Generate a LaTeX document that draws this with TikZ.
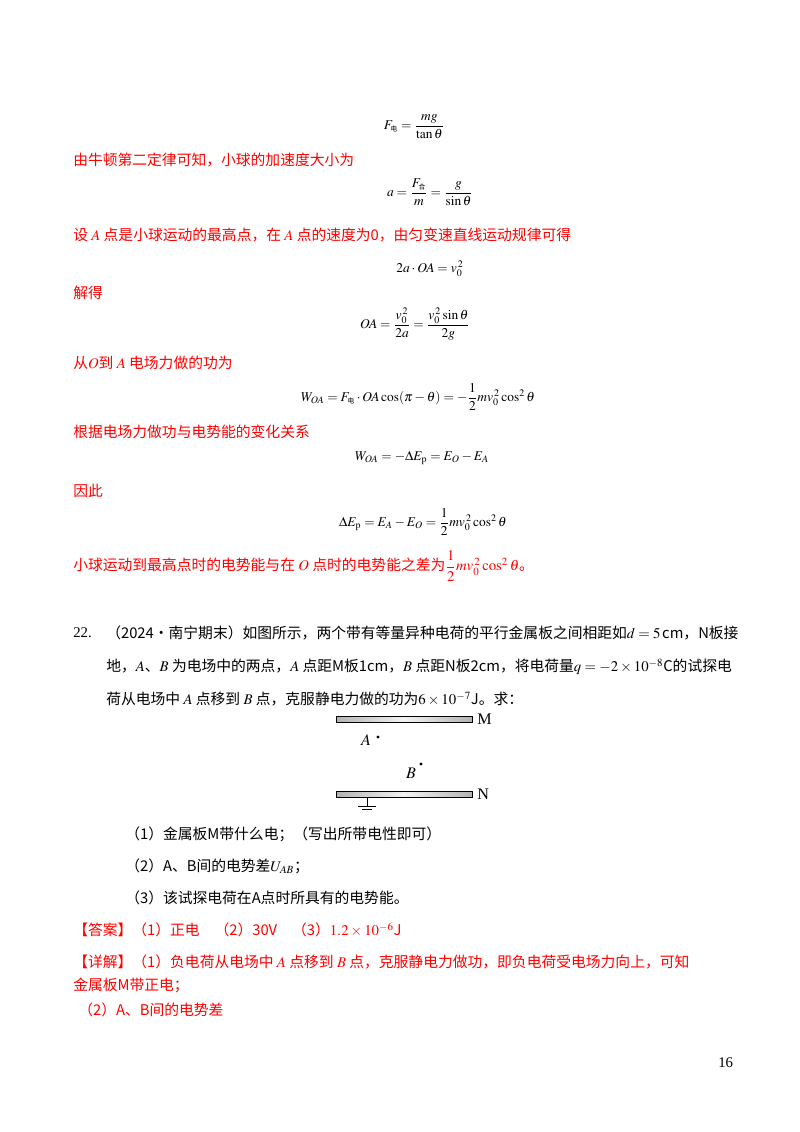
\documentclass[tikz,border=0pt]{standalone}
\usepackage{amsmath}
\usepackage{mathptmx}
\usepackage{fontspec}
\setmainfont{Liberation Serif}
\newfontfamily\cjk{Noto Sans CJK SC}
\definecolor{ansred}{RGB}{255,0,0}
\begin{document}
\begin{tikzpicture}[x=0.744pt,y=-0.744pt,
  red/.style={anchor=west,inner sep=0,text=ansred,font=\cjk\fontsize{11}{13}\selectfont},
  blk/.style={anchor=west,inner sep=0,font=\cjk\fontsize{11}{13}\selectfont},
  eq/.style={inner sep=0,font=\fontsize{10}{12}\selectfont},
  plate/.style={draw=black,line width=0.6pt,top color=gray!60,bottom color=gray!60,middle color=gray!10,shading angle=90}]
\useasboundingbox (0,0) rectangle (800,1132);
\node[eq] (e1) at (414,127) {$F_{\text{\cjk\tiny 电}}=\dfrac{mg}{\tan\theta}$};
\node[red] (t1) at (73,160) {由牛顿第二定律可知，小球的加速度大小为};
\node[eq] (e2) at (430,192) {$a=\dfrac{F_{\text{\cjk\tiny 合}}}{m}=\dfrac{g}{\sin\theta}$};
\node[red] (t2) at (73,235) {设 $A$ 点是小球运动的最高点，在 $A$ 点的速度为0，由匀变速直线运动规律可得};
\node[eq] (e3) at (430,269) {$2a\cdot OA=v_0^{\,2}$};
\node[red] (t3) at (73,293) {解得};
\node[eq] (e4) at (415,324) {$OA=\dfrac{v_0^{\,2}}{2a}=\dfrac{v_0^{\,2}\sin\theta}{2g}$};
\node[red] (t4) at (73,363) {从$O$到 $A$ 电场力做的功为};
\node[eq] (e5) at (418,397) {$W_{OA}=F_{\text{\cjk\tiny 电}}\cdot OA\cos(\pi-\theta)=-\dfrac12 mv_0^{\,2}\cos^2\theta$};
\node[red] (t5) at (73,432) {根据电场力做功与电势能的变化关系};
\node[eq] (e6) at (422,458) {$W_{OA}=-\Delta E_{\mathrm p}=E_O-E_A$};
\node[red] (t6) at (73,491) {因此};
\node[eq] (e7) at (423,522) {$\Delta E_{\mathrm p}=E_A-E_O=\dfrac12 mv_0^{\,2}\cos^2\theta$};
\node[red] (t7) at (73,566) {小球运动到最高点时的电势能与在 $O$ 点时的电势能之差为$\dfrac12 mv_0^{\,2}\cos^2\theta$。};
\node[blk] (q0) at (73,633) {\rmfamily 22.};
\node[blk] (q1) at (106,633) {（2024·南宁期末）如图所示，两个带有等量异种电荷的平行金属板之间相距如$d=5\,$cm，N板接};
\node[blk] (q2) at (106,667) {地，$A$、$B$ 为电场中的两点，$A$ 点距M板1cm，$B$ 点距N板2cm，将电荷量$q=-2\times10^{-8}$C的试探电};
\node[blk] (q3) at (106,699) {荷从电场中 $A$ 点移到 $B$ 点，克服静电力做的功为$6\times10^{-7}$J。求：};
% figure
\node[plate,minimum width=136*0.744pt,minimum height=6*0.744pt,inner sep=0] (pm) at (404,719) {};
\node[anchor=west,inner sep=0,font=\fontsize{12}{14}\selectfont] (lm) at (477,719) {M};
\node[plate,minimum width=136*0.744pt,minimum height=6*0.744pt,inner sep=0] (pn) at (404,794) {};
\node[anchor=west,inner sep=0,font=\fontsize{12}{14}\selectfont] (ln) at (477,794) {N};
\fill (378,737) circle (1.6) coordinate (da);
\node[inner sep=0,font=\fontsize{12}{14}\selectfont] (la) at (366,740) {$A$};
\fill (421,764) circle (1.6) coordinate (db);
\node[inner sep=0,font=\fontsize{12}{14}\selectfont] (lb) at (411,773) {$B$};
\coordinate (g0) at (367,797);
\coordinate (g1) at (367,806);
\draw[line width=0.6pt] (g0) -- (g1) (358,806) -- (376,806) (362,809) -- (372,809);
\node[blk] (s1) at (125,834) {（1）金属板M带什么电；（写出所带电性即可）};
\node[blk] (s2) at (125,866) {（2）A、B间的电势差$U_{AB}$；};
\node[blk] (s3) at (125,898) {（3）该试探电荷在A点时所具有的电势能。};
\node[red] (ans) at (73,930) {【答案】（1）正电\quad（2）30V\quad（3）$1.2\times10^{-6}$J};
\node[red] (d1) at (73,962) {【详解】（1）负电荷从电场中 $A$ 点移到 $B$ 点，克服静电力做功，即负电荷受电场力向上，可知};
\node[red] (d2) at (73,985) {金属板M带正电；};
\node[red] (d3) at (78,1010) {（2）A、B间的电势差};
\node[blk] (pg) at (718,1063) {\rmfamily 16};
\end{tikzpicture}
\end{document}
